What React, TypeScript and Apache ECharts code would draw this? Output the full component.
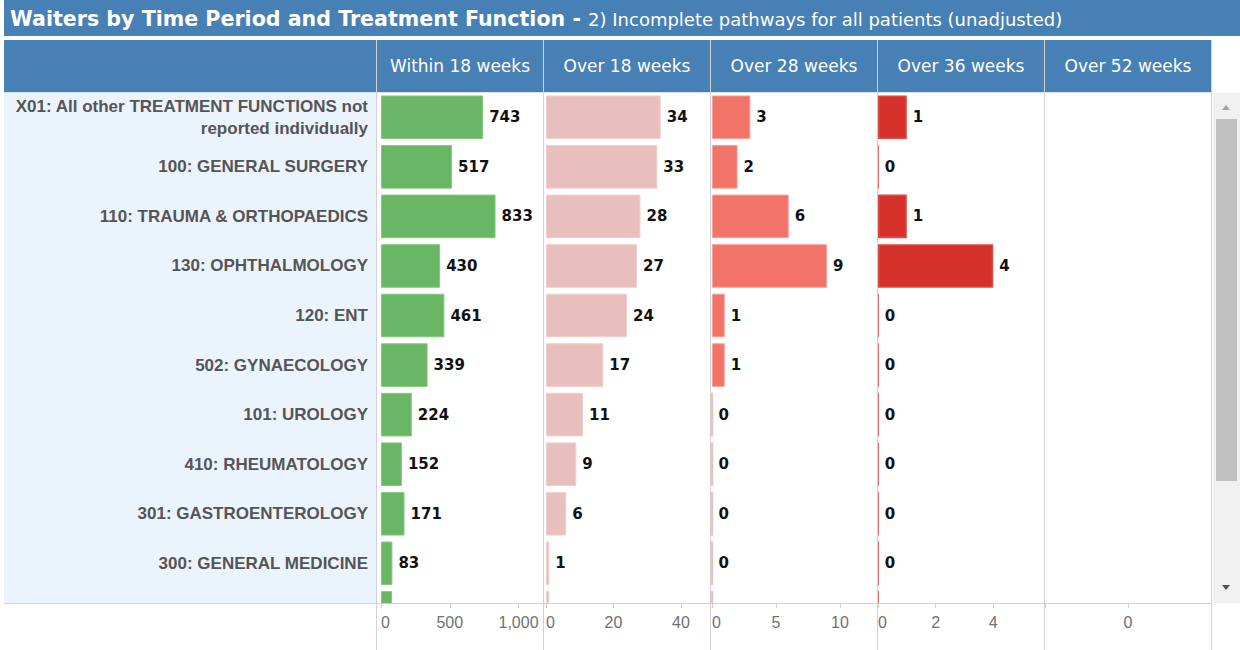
import React, { useEffect, useRef } from 'react';
import * as echarts from 'echarts';

// ---------- data ----------
const categories = [
  'X01: All other TREATMENT FUNCTIONS not reported individually',
  '100: GENERAL SURGERY',
  '110: TRAUMA & ORTHOPAEDICS',
  '130: OPHTHALMOLOGY',
  '120: ENT',
  '502: GYNAECOLOGY',
  '101: UROLOGY',
  '410: RHEUMATOLOGY',
  '301: GASTROENTEROLOGY',
  '300: GENERAL MEDICINE',
  '',
];
const within18 = [743, 517, 833, 430, 461, 339, 224, 152, 171, 83, 80];
const over18 = [34, 33, 28, 27, 24, 17, 11, 9, 6, 1, 1];
const over28 = [3, 2, 6, 9, 1, 1, 0, 0, 0, 0, 0];
const over36 = [1, 0, 1, 4, 0, 0, 0, 0, 0, 0, 0];
const over52: (number | null)[] = [];

const columnTitles = ['Within 18 weeks', 'Over 18 weeks', 'Over 28 weeks', 'Over 36 weeks', 'Over 52 weeks'];
const axisMax = [1178, 48.6, 12.9, 5.76, 1];
const axisMin = [0, 0, 0, 0, -1];
const axisStep = [500, 20, 5, 2, 1];

const titleMain = 'Waiters by Time Period and Treatment Function - ';
const titleSub = '2) Incomplete pathways for all patients (unadjusted)';

// ---------- layout / style ----------
const HEADER_BLUE = '#4780b5';
const sepX = [376.5, 543.5, 710.5, 877.5, 1044.5, 1211.5];
const gridLeft = [381, 546, 712, 878, 1045];
const gridRight = [543, 710, 877, 1044, 1211];
const TOP = 92.5;
const ROW = 49.56;
const AXIS_Y = 603;
const barColors = ['#69b665', '#e8bfbc', '#f27468', '#d5302a'];
const barBorders = ['#86c982', '#efd0ce', '#f6a29a', '#dc4a44'];
const barBorderW = [1, 1, 1, 1.6];

export default function App() {
  const ref = useRef<HTMLDivElement>(null);

  useEffect(() => {
    if (!ref.current) return;
    const chart = echarts.init(ref.current, null, { renderer: 'svg' });
    const seriesData = [within18, over18, over28, over36];

    const grids: any[] = [];
    const xAxes: any[] = [];
    const yAxes: any[] = [];
    const series: any[] = [];

    // bar grids (11 rows, the last one partly scrolled out of view)
    for (let i = 0; i < 4; i++) {
      grids.push({
        left: gridLeft[i],
        top: TOP,
        width: gridRight[i] - gridLeft[i],
        height: ROW * categories.length,
        containLabel: false,
        outerBoundsMode: 'none',
      });
      xAxes.push({
        gridIndex: i,
        type: 'value',
        min: axisMin[i],
        max: axisMax[i],
        show: false,
        splitLine: { show: false },
      });
      yAxes.push({
        gridIndex: i,
        type: 'category',
        inverse: true,
        data: categories,
        show: i === 0,
        axisLine: { show: false },
        axisTick: { show: false },
        splitLine: { show: false },
        axisLabel: {
          show: i === 0,
          margin: 13,
          fontFamily: 'Liberation Sans, Arial, sans-serif',
          fontWeight: 'bold',
          fontSize: 17,
          color: '#555555',
          lineHeight: 22,
          align: 'right',
          formatter: (v: string) => v.replace(' reported', '\nreported'),
        },
      });
      series.push({
        type: 'bar',
        name: columnTitles[i],
        xAxisIndex: i,
        yAxisIndex: i,
        data: seriesData[i],
        barCategoryGap: '12%',
        itemStyle: { color: barColors[i], borderColor: barBorders[i], borderWidth: barBorderW[i] },
        label: {
          show: true,
          position: 'right',
          distance: 6,
          fontFamily: 'DejaVu Sans, sans-serif',
          fontWeight: 'bold',
          fontSize: 15,
          color: '#111111',
          formatter: (p: any) => (p.dataIndex >= 10 ? '' : String(p.value)),
        },
      });
    }

    // axis-only grids (bottom tick labels)
    for (let i = 0; i < 5; i++) {
      const gi = 4 + i;
      grids.push({
        left: gridLeft[i],
        top: TOP,
        width: gridRight[i] - gridLeft[i],
        height: AXIS_Y - TOP,
        containLabel: false,
        outerBoundsMode: 'none',
      });
      const step = axisStep[i];
      xAxes.push({
        gridIndex: gi,
        type: 'value',
        position: 'bottom',
        min: axisMin[i],
        max: axisMax[i],
        interval: step,
        z: 20,
        axisLine: { show: false },
        axisTick: { show: true, length: 5, lineStyle: { color: '#d0d0d0' } },
        splitLine: { show: false },
        axisLabel: {
          margin: 11,
          fontFamily: 'Liberation Sans Narrow, Arial Narrow, sans-serif',
          fontSize: 16,
          color: '#707070',
          alignMinLabel: i < 4 ? 'left' : undefined,
          formatter: (v: number) => {
            if (i === 4) return v === 0 ? '0' : '';
            if (Math.abs(v % step) > 1e-9) return '';
            return v.toLocaleString('en-US');
          },
        },
      });
      yAxes.push({ gridIndex: gi, type: 'value', show: false, min: 0, max: 1 });
    }
    // last column: no data
    series.push({
      type: 'bar',
      name: columnTitles[4],
      xAxisIndex: 8,
      yAxisIndex: 8,
      data: over52,
    });

    const graphics: any[] = [];
    // title bar
    graphics.push({ type: 'rect', shape: { x: 4, y: 0, width: 1236, height: 36 }, style: { fill: HEADER_BLUE }, z: 1 });
    graphics.push({
      type: 'text',
      x: 10,
      y: 19,
      z: 2,
      style: {
        text: `{a|${titleMain}}{b|${titleSub}}`,
        verticalAlign: 'middle',
        rich: {
          a: { fontFamily: 'DejaVu Sans, sans-serif', fontWeight: 'bold', fontSize: 20.6, fill: '#ffffff' },
          b: { fontFamily: 'DejaVu Sans, sans-serif', fontSize: 18, fill: '#ffffff' },
        },
      },
    });
    // header row
    graphics.push({ type: 'rect', shape: { x: 4, y: 40, width: 1208, height: 52 }, style: { fill: HEADER_BLUE }, z: 1 });
    for (let i = 0; i < 5; i++) {
      graphics.push({
        type: 'text',
        x: (sepX[i] + sepX[i + 1]) / 2,
        y: 66,
        z: 2,
        style: {
          text: columnTitles[i],
          align: 'center',
          verticalAlign: 'middle',
          fontFamily: 'DejaVu Sans, sans-serif',
          fontSize: 17,
          fill: '#ffffff',
        },
      });
    }
    // label panel background
    graphics.push({ type: 'rect', shape: { x: 4, y: 93, width: 372.5, height: AXIS_Y - 93 }, style: { fill: '#ebf3fd' }, z: -1 });
    // cover for the part of the last row below the axis
    graphics.push({ type: 'rect', shape: { x: 0, y: AXIS_Y + 0.5, width: 1240, height: 650 - AXIS_Y }, style: { fill: '#ffffff' }, z: 10 });
    // header/body divider
    graphics.push({ type: 'line', shape: { x1: 4, y1: 92.5, x2: 1212, y2: 92.5 }, style: { stroke: '#dde3ea', lineWidth: 1 }, z: 15 });
    // vertical separators
    sepX.forEach((x) => {
      graphics.push({ type: 'line', shape: { x1: x, y1: 40, x2: x, y2: 650 }, style: { stroke: '#d2d2d2', lineWidth: 1 }, z: 15 });
    });
    // axis line
    graphics.push({ type: 'line', shape: { x1: 4, y1: AXIS_Y + 0.5, x2: 1212, y2: AXIS_Y + 0.5 }, style: { stroke: '#d2d2d2', lineWidth: 1 }, z: 15 });
    // scrollbar
    graphics.push({ type: 'rect', shape: { x: 1213, y: 93, width: 27, height: AXIS_Y - 93 }, style: { fill: '#f0f0f0' }, z: 16 });
    graphics.push({ type: 'rect', shape: { x: 1216, y: 119, width: 21, height: 362 }, style: { fill: '#c1c1c1' }, z: 17 });
    graphics.push({ type: 'polygon', shape: { points: [[1222, 110], [1230, 110], [1226, 105]] }, style: { fill: '#a3a3a3' }, z: 17 });
    graphics.push({ type: 'polygon', shape: { points: [[1222, 585], [1230, 585], [1226, 590]] }, style: { fill: '#505050' }, z: 17 });

    chart.setOption({
      animation: false,
      backgroundColor: '#ffffff',
      grid: grids,
      xAxis: xAxes,
      yAxis: yAxes,
      series,
      graphic: { elements: graphics },
    });

    return () => chart.dispose();
  }, []);

  return (
    <div
      ref={ref}
      style={{ position: 'fixed', left: 0, top: 0, width: 1240, height: 650, background: '#fff' }}
    />
  );
}
